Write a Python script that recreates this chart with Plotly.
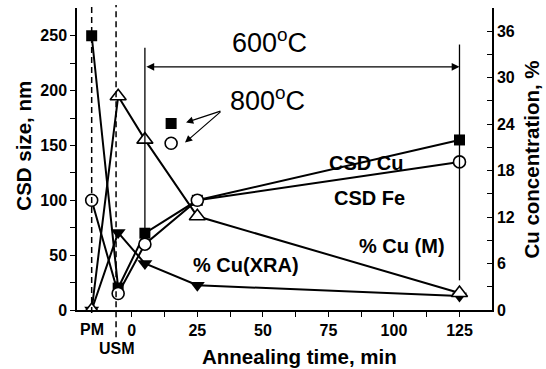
import plotly.graph_objects as go

# ---- data ----
x_pos = [-15.3, -5.2, 5, 25, 125]          # PM, USM, 5, 25, 125 min
csd_cu = [250, 20, 70, 100, 155]
csd_fe = [100, 15, 60, 100, 135]
cu_m = [0, 27.6, 22.0, 12.1, 2.2]          # right axis, %
cu_xra = [0, 10.0, 6.0, 3.2, 1.8]          # right axis, %
x800 = [15]
cu_800 = [170]
fe_800 = [152]

x_ticks = [0, 12.5, 25, 37.5, 50, 62.5, 75, 87.5, 100, 112.5, 125]
x_ticktext = ["0", "", "25", "", "50", "", "75", "", "100", "", "125"]
y_ticks = [0, 25, 50, 75, 100, 125, 150, 175, 200, 225, 250]
y_ticktext = ["0", "", "50", "", "100", "", "150", "", "200", "", "250"]
y2_ticks = [0, 3, 6, 9, 12, 15, 18, 21, 24, 27, 30, 33, 36]
y2_ticktext = ["0", "", "6", "", "12", "", "18", "", "24", "", "30", "", "36"]

FONT = "Liberation Sans, Arial, sans-serif"
BOLD = dict(family=FONT, size=20, color="black", weight="bold")
TITLE = dict(family=FONT, size=20.5, color="black", weight="bold")

fig = go.Figure()

fig.add_trace(go.Scatter(x=x_pos, y=csd_cu, mode="lines+markers",
                         line=dict(color="black", width=2),
                         marker=dict(symbol="square", size=11, color="black"),
                         showlegend=False))
fig.add_trace(go.Scatter(x=x_pos, y=csd_fe, mode="lines+markers",
                         line=dict(color="black", width=2),
                         marker=dict(symbol="circle", size=12, color="white",
                                     line=dict(color="black", width=1.6)),
                         showlegend=False))
fig.add_trace(go.Scatter(x=x800, y=cu_800, mode="markers",
                         marker=dict(symbol="square", size=11, color="black"),
                         showlegend=False))
fig.add_trace(go.Scatter(x=x800, y=fe_800, mode="markers",
                         marker=dict(symbol="circle", size=12, color="white",
                                     line=dict(color="black", width=1.6)),
                         showlegend=False))
fig.add_trace(go.Scatter(x=x_pos, y=cu_xra, mode="lines+markers", yaxis="y2",
                         line=dict(color="black", width=2),
                         marker=dict(symbol="triangle-down", size=13, color="black"),
                         showlegend=False))
fig.add_trace(go.Scatter(x=x_pos, y=cu_m, mode="lines+markers", yaxis="y2",
                         line=dict(color="black", width=2),
                         marker=dict(symbol="triangle-up", size=14, color="white",
                                     line=dict(color="black", width=1.6)),
                         showlegend=False))

shapes = [
    # dashed guide lines at PM and USM
    dict(type="line", xref="x", yref="paper", x0=-15.3, x1=-15.3, y0=-0.01, y1=1.01,
         line=dict(color="black", width=1.5, dash="6px,4px")),
    dict(type="line", xref="x", yref="paper", x0=-6, x1=-6, y0=-0.09, y1=1.01,
         line=dict(color="black", width=1.5, dash="6px,4px")),
    # solid markers of 600 C range
    dict(type="line", xref="x", yref="y", x0=5, x1=5, y0=73, y1=239,
         line=dict(color="black", width=1.3)),
    dict(type="line", xref="x", yref="y", x0=125, x1=125, y0=27, y1=242,
         line=dict(color="black", width=1.3)),
]

annotations = [
    dict(x=125, y=221.7, ax=5, ay=221.7, xref="x", yref="y", axref="x", ayref="y",
         text="", showarrow=True, arrowhead=2, arrowside="end+start", arrowsize=1.2,
         arrowwidth=1.3, arrowcolor="black"),
    dict(x=20.7, y=170.9, ax=34.4, ay=181.8, xref="x", yref="y", axref="x", ayref="y",
         text="", showarrow=True, arrowhead=2, arrowsize=1.2, arrowwidth=1.2,
         arrowcolor="black"),
    dict(x=20.3, y=152.6, ax=34.4, ay=181.8, xref="x", yref="y", axref="x", ayref="y",
         text="", showarrow=True, arrowhead=2, arrowsize=1.2, arrowwidth=1.2,
         arrowcolor="black"),
    dict(x=52.5, y=245.5, xref="x", yref="y", text="600<sup>o</sup>C", showarrow=False,
         font=dict(family=FONT, size=27, color="black")),
    dict(x=51.8, y=192.5, xref="x", yref="y", text="800<sup>o</sup>C", showarrow=False,
         font=dict(family=FONT, size=27, color="black")),
    dict(x=89.4, y=134, xref="x", yref="y", text="CSD Cu", showarrow=False, font=BOLD),
    dict(x=90.7, y=102, xref="x", yref="y", text="CSD Fe", showarrow=False, font=BOLD),
    dict(x=103, y=58.4, xref="x", yref="y", text="% Cu (M)", showarrow=False, font=BOLD),
    dict(x=43.6, y=41, xref="x", yref="y", text="% Cu(XRA)", showarrow=False, font=BOLD),
    # special tick labels
    dict(x=-15.3, y=-0.063, xref="x", yref="paper", xanchor="center", yanchor="middle",
         text="PM", showarrow=False,
         font=dict(family=FONT, size=16, color="black", weight="bold")),
    dict(x=-5.7, y=-0.126, xref="x", yref="paper", xanchor="center", yanchor="middle",
         text="USM", showarrow=False,
         font=dict(family=FONT, size=16, color="black", weight="bold")),
    # axis titles
    dict(x=-0.131, y=0.543, xref="paper", yref="paper", xanchor="center",
         yanchor="middle", text="CSD size, nm", textangle=-90, showarrow=False,
         font=TITLE),
    dict(x=1.0957, y=0.497, xref="paper", yref="paper", xanchor="center",
         yanchor="middle", text="Cu concentration, %", textangle=-90, showarrow=False,
         font=TITLE),
    dict(x=0.537, y=-0.155, xref="paper", yref="paper", xanchor="center",
         yanchor="middle", text="Annealing time, min", showarrow=False,
         font=TITLE),
]

tickfont = dict(family=FONT, size=16, color="black", weight="bold")

fig.update_layout(
    width=546, height=369,
    margin=dict(l=77, r=54, t=8, b=59),
    paper_bgcolor="white", plot_bgcolor="white",
    shapes=shapes, annotations=annotations,
    xaxis=dict(range=[-20.9, 137.4], showline=True, linecolor="black", linewidth=1.5,
               ticks="outside", ticklen=5, tickwidth=1.3, tickcolor="black",
               tickvals=x_ticks, ticktext=x_ticktext, tickfont=tickfont,
               showgrid=False, zeroline=False),
    yaxis=dict(range=[0, 275.3], showline=True, linecolor="black", linewidth=1.5,
               ticks="outside", ticklen=5, tickwidth=1.3, tickcolor="black",
               tickvals=y_ticks, ticktext=y_ticktext, tickfont=tickfont,
               showgrid=False, zeroline=False),
    yaxis2=dict(range=[0, 39.0], overlaying="y", side="right", showline=True,
                linecolor="black", linewidth=1.5,
                ticks="inside", ticklen=5, tickwidth=1.3, tickcolor="black",
                tickvals=y2_ticks, ticktext=y2_ticktext, tickfont=tickfont,
                showgrid=False, zeroline=False),
)

fig.write_html("out.html", config={"displayModeBar": False},
               post_script="document.body.style.margin='0';document.body.style.overflow='hidden';")
